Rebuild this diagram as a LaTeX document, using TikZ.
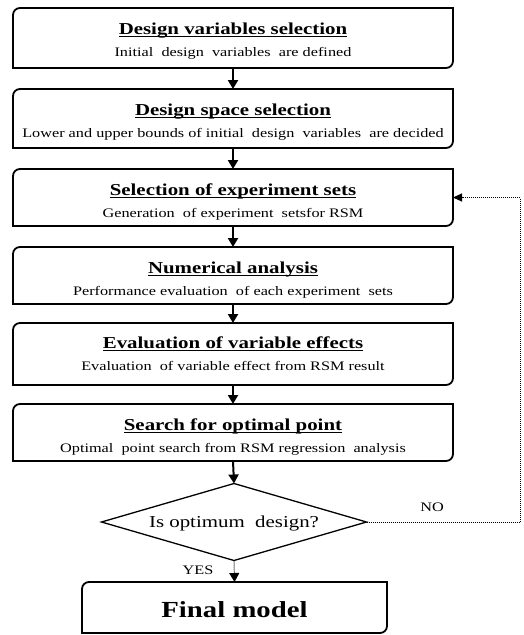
\documentclass[tikz,border=0pt]{standalone}
\usepackage{fontspec}
\setmainfont{Liberation Serif}[FakeStretch=1.25]
\usetikzlibrary{arrows.meta,shapes.geometric,calc}
\newcommand\myul[1]{\setbox0\hbox{#1}\rlap{\rule[-2.2pt]{\wd0}{0.9pt}}\box0}
\newcommand\obox[1]{\draw[boxline] (#1.south west) -- ([yshift=-7pt]#1.north west) arc[start angle=180,end angle=90,radius=7pt] -- (#1.north east) -- ([yshift=7pt]#1.south east) arc[start angle=0,end angle=-90,radius=7pt] -- cycle;}
\tikzset{
  boxshape/.style={minimum width=440pt, inner sep=0pt, outer sep=0pt},
  boxline/.style={line width=1.8pt, black},
  ttl/.style={anchor=base, inner sep=0pt, font=\fontsize{16.7}{18}\selectfont\bfseries},
  sub/.style={anchor=base, inner sep=0pt, font=\fontsize{13}{15}\selectfont},
  lbl/.style={inner sep=0pt, font=\fontsize{13}{15}\selectfont},
  arr/.style={line width=2pt, -{Triangle[width=10pt,length=9pt]}},
  dotarr/.style={line width=1pt, dash pattern=on 1pt off 1pt, -{Triangle[width=8pt,length=9pt]}},
}
\begin{document}
\begin{tikzpicture}[x=1pt,y=1pt]
\useasboundingbox (0,0) rectangle (524,-635);
% boxes
\node[boxshape,minimum height=60pt] (b1) at (233,-38) {};
\node[boxshape,minimum height=59pt] (b2) at (233,-118.5) {};
\node[boxshape,minimum height=57pt] (b3) at (233,-197.5) {};
\node[boxshape,minimum height=57pt] (b4) at (233,-275.5) {};
\node[boxshape,minimum height=62pt] (b5) at (233,-354) {};
\node[boxshape,minimum height=57pt] (b6) at (233,-432.5) {};
\node[boxshape,minimum width=305pt,minimum height=51pt] (fm) at (234.5,-607.5) {};
\obox{b1}\obox{b2}\obox{b3}\obox{b4}\obox{b5}\obox{b6}\obox{fm}
% texts
\node[ttl] (t1) at ([yshift=-26.5pt]b1.north) {\myul{Design variables selection}};
\node[sub] (s1) at ([yshift=-48pt]b1.north) {Initial\ \ design\ \ variables\ \ are defined};
\node[ttl] (t2) at ([yshift=-26.5pt]b2.north) {\myul{Design space selection}};
\node[sub] (s2) at ([yshift=-48pt]b2.north) {Lower and upper bounds of initial\ \ design\ \ variables\ \ are decided};
\node[ttl] (t3) at ([yshift=-26.5pt]b3.north) {\myul{Selection of experiment sets}};
\node[sub] (s3) at ([yshift=-48pt]b3.north) {Generation\ \ of experiment\ \ setsfor RSM};
\node[ttl] (t4) at ([yshift=-26.5pt]b4.north) {\myul{Numerical analysis}};
\node[sub] (s4) at ([yshift=-48pt]b4.north) {Performance evaluation\ \ of each experiment\ \ sets};
\node[ttl] (t5) at ([yshift=-25.5pt]b5.north) {\myul{Evaluation of variable effects}};
\node[sub] (s5) at ([yshift=-47pt]b5.north) {Evaluation\ \ of variable\ effect from RSM result};
\node[ttl] (t6) at ([yshift=-26.5pt]b6.north) {\myul{Search for optimal point}};
\node[sub] (s6) at ([yshift=-48pt]b6.north) {Optimal\ \ point search from RSM regression\ \ analysis};
\node[anchor=base, inner sep=0pt, font=\fontsize{23}{25}\selectfont\bfseries] (tf) at (234.5,-617) {Final model};
% decision
\node[draw, diamond, minimum width=265pt, minimum height=77pt, inner sep=0pt, outer sep=0pt, line width=1.3pt] (d) at (234,-522) {};
\node[anchor=base, inner sep=0pt, font=\fontsize{16.7}{18}\selectfont] (dt) at (234,-527.3) {Is optimum\ \ design?};
% arrows
\draw[arr] (b1.south) -- (b2.north);
\draw[arr] (b2.south) -- (b3.north);
\draw[arr] (b3.south) -- (b4.north);
\draw[arr] (b4.south) -- (b5.north);
\draw[arr] (b5.south) -- (b6.north);
\draw[arr] (b6.south) -- (d.north);
\draw[dotarr, -{Triangle[width=10pt,length=9pt]}] (d.south) -- (fm.north);
\coordinate (c1) at (520,-522);
\draw[dotarr] (d.east) -- (c1) |- (b3.east);
\node[lbl] (no) at (432,-507) {NO};
\node[lbl] (yes) at (198,-570) {YES};
\end{tikzpicture}
\end{document}
